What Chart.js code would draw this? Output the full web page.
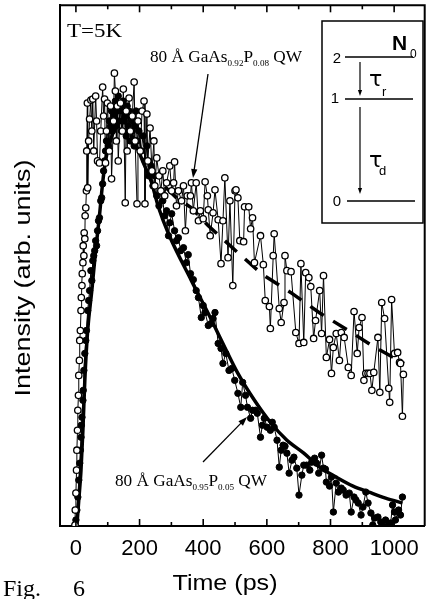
<!DOCTYPE html>
<html><head><meta charset="utf-8">
<script src="https://cdn.jsdelivr.net/npm/chart.js@4/dist/chart.umd.min.js"></script>
<style>html,body{margin:0;padding:0;background:#fff;}canvas{display:block;}</style>
</head><body>
<canvas id="c" width="430" height="599"></canvas>
<script>
// ---- data (Time in ps, intensity in arb. units) ----
const openTimes = [-3,-2,0,2,3,5,6,8,9,11,12,14,16,17,19,20,22,23,25,26,28,29,31,33,34,36,37,40,43,47,50,53,56,62,65,68,74,78,84,87,90,93,96,99,105,109,112,118,121,124,127,130,133,140,146,149,155,158,161,167,171,177,183,186,192,195,202,208,214,217,223,226,233,239,245,248,254,261,267,273,279,285,295,301,307,310,316,322,332,338,344,350,360,363,369,378,385,391,400,406,413,416,422,431,437,447,456,462,468,478,484,493,500,503,509,515,527,530,543,549,555,561,580,589,595,608,611,620,623,639,645,654,657,663,676,691,701,707,716,722,732,738,747,753,766,772,778,787,797,803,809,818,828,834,843,856,865,874,884,890,899,905,911,918,924,930,936,949,955,961,970,983,986,992,1001,1011,1017,1020,1026,1029];
const openValues = [0.2,3.2,6.6,11.2,15.2,19.2,23.2,26.2,30.2,33.2,37.2,39.2,43.2,45.8,48.2,50.6,52.8,56.2,54.2,58.8,57.6,62.2,63.8,67.2,75.2,84.8,67.8,77.2,81.6,85.4,79.2,85.6,75.2,86.2,81.2,73.2,72.8,79.2,88,82.2,85.6,72.8,79.2,84.8,75.2,84.2,69.6,81.2,90.8,87.2,77.2,84.2,73.2,84.8,79.2,87.6,64.8,83.2,75.2,85.8,79.2,82.2,89,77.2,64.6,81.2,75.2,83.2,85.2,64.6,82.6,73.2,79.8,71.2,77.2,68.2,73.8,70.2,67.2,71.2,66.2,68.8,72.2,67.2,68.8,73,64.2,67.2,65.2,68.2,59.2,66.2,66.2,68.8,63.2,68.8,61.2,63.2,61.6,69,66.2,63.4,58.2,62.8,67.4,61.4,52.6,61.2,69.8,53.8,65.2,48.2,67.2,67.4,65.8,57.2,57,64,64,59.6,61.8,52.8,58.2,52.4,45.2,44,39.6,54.2,58.6,43.6,40.8,44.8,54.2,51.2,51,38.8,36.6,52.6,36.8,50.8,49.8,48,37.6,41.2,47.2,38.6,50.2,33.8,37.4,30.6,35.8,38.6,33.2,38.8,37.8,31.8,30.2,43,34.6,39.8,41.8,29.2,30.6,30.6,30.6,27.2,30.8,37.8,26.8,44.8,41.6,27.6,24.8,45.4,34.6,34.8,32.8,32.6,22,30.4];
const filledTimes = [0,3,6,9,12,14,16,17,19,22,23,25,28,31,33,37,40,43,47,50,53,56,59,62,65,68,71,74,78,81,84,87,90,93,96,99,102,105,109,112,115,118,121,124,127,130,133,136,140,143,146,149,152,155,158,161,164,167,171,174,177,180,183,186,189,192,198,205,211,217,223,229,236,242,248,254,261,267,273,279,285,291,295,301,310,316,322,329,338,347,353,360,369,378,385,394,400,406,416,425,431,437,447,456,462,471,481,490,499,509,518,524,533,539,549,555,564,570,580,586,592,601,611,617,623,632,639,645,651,657,663,670,679,685,694,701,710,716,725,735,741,750,756,763,772,778,784,787,797,803,809,818,825,834,840,849,859,865,874,880,887,896,902,911,918,927,933,939,949,958,964,973,980,989,995,1001,1004,1014,1020,1026];
const filledValues = [1.2,3.2,5.8,9.2,12.6,15.2,17.8,20.2,21.8,25.2,27.2,31.2,34.6,37.2,39.2,43.2,45.2,47.2,51.2,49.2,53.2,54.2,55.2,57.2,56.2,59.2,61.2,61.8,65.2,65.8,68.6,71.2,73.2,75.2,77.2,79.2,76.2,81.2,80.2,83.2,79.2,84.2,82.2,85.2,80.2,83.2,86.2,81.2,84.2,79.2,83.2,85.2,81.2,82.2,78.2,84.2,80.2,83.2,77.2,82.2,79.2,81.2,76.2,80.2,83.2,77.2,79.2,75.2,78.2,73.2,76.2,70.2,72.2,68.2,70.2,66.2,64.2,67.2,65.2,62.2,63.2,58.2,60.8,62.6,59.2,57.2,57.8,55.2,55.8,52.8,54.4,50.6,49.4,47.2,45.8,41.8,44.2,42.8,40.2,40.6,41.6,42.8,36.6,35.6,32.6,34.6,31.2,31.6,29.2,26.6,23.8,28.8,26.2,23.8,21.6,23.2,23.2,22.6,17.8,20.2,21.6,19.8,19.2,20.8,19.8,17.2,11.8,15.2,16.2,16,14.6,10.6,13.2,13.8,11.6,6.2,10.2,12.2,12.2,11.2,12.8,13.6,12.6,10.6,14.2,11.6,11.4,8.8,8,9.8,2.8,8.6,6.8,7.6,7.2,6.2,6.6,2.8,5.8,5.2,4.6,2.2,3.8,6.8,4.6,2.6,0.2,1.6,1.8,0.8,0,1.2,0,0.6,4.2,2.8,1.2,3.2,2.2,5.8];
const fitTimes = [3,9,16,22,28,37,50,62,74,84,93,105,121,136,152,167,183,198,214,236,260,291,363,416,468,509,561,611,663,716,766,818,871,921,973,1026];
const fitValues = [0,5.2,11.2,19.2,29.2,39.2,47.2,55.2,62.2,68.8,73.2,76.5,79.5,81,81,79.5,77.2,75,72.5,69.2,63.8,58.6,49.2,42.6,35.8,30.6,25.2,20.8,17.2,14.6,11.8,9.8,8,6.8,5.6,4.6];
const dashTimes = [280,316,363,416,509,587,680,764,851,935,1031];
const dashValues = [68,65.8,63.8,60.2,54.8,50.4,46.6,42.8,39.4,36,32.6];
const xLabelTicks = [0,200,400,600,800,1000];
const xMinorTicks = [100,300,500,700,900];
const xTitle = 'Time (ps)';
const yTitle = 'Intensity (arb. units)';
const upperLabel = ['80 Å GaAs','0.92','P','0.08',' QW'];
const lowerLabel = ['80 Å GaAs','0.95','P','0.05',' QW'];

const pts = (xs, ys) => xs.map((t, i) => ({x: t, y: ys[i]}));
const SANS = '"Liberation Sans", Arial, Helvetica, sans-serif';
const SERIF = '"Liberation Serif", "Times New Roman", serif';

function stretchText(ctx, text, x, y, font, width, align) {
  ctx.save();
  ctx.font = font;
  const w = ctx.measureText(text).width;
  ctx.translate(x, y);
  ctx.scale(width / w, 1);
  ctx.textAlign = align || 'left';
  ctx.textBaseline = 'alphabetic';
  ctx.fillText(text, 0, 0);
  ctx.restore();
}
function richLabel(ctx, parts, x, y, width) {
  const main = '17px ' + SERIF, sub = '9px ' + SERIF;
  let total = 0;
  parts.forEach((p, i) => { ctx.font = (i === 1 || i === 3) ? sub : main; total += ctx.measureText(p).width; });
  ctx.save();
  ctx.translate(x, y);
  ctx.scale(width / total, 1);
  ctx.textBaseline = 'alphabetic';
  ctx.textAlign = 'left';
  let cx = 0;
  parts.forEach((p, i) => {
    const isSub = (i === 1 || i === 3);
    ctx.font = isSub ? sub : main;
    ctx.fillText(p, cx, isSub ? 4 : 0);
    cx += ctx.measureText(p).width;
  });
  ctx.restore();
}
function arrow(ctx, x1, y1, x2, y2, head, lw) {
  const a = Math.atan2(y2 - y1, x2 - x1);
  ctx.save();
  ctx.lineWidth = lw;
  ctx.beginPath(); ctx.moveTo(x1, y1);
  ctx.lineTo(x2 - Math.cos(a) * head * 0.8, y2 - Math.sin(a) * head * 0.8); ctx.stroke();
  ctx.beginPath();
  ctx.moveTo(x2, y2);
  ctx.lineTo(x2 - head * Math.cos(a) + head * 0.35 * Math.sin(a), y2 - head * Math.sin(a) - head * 0.35 * Math.cos(a));
  ctx.lineTo(x2 - head * Math.cos(a) - head * 0.35 * Math.sin(a), y2 - head * Math.sin(a) + head * 0.35 * Math.cos(a));
  ctx.closePath(); ctx.fill();
  ctx.restore();
}

const decor = {
  id: 'decor',
  afterDraw(chart) {
    const {ctx, chartArea: a, scales: {x}} = chart;
    ctx.save();
    ctx.strokeStyle = '#000'; ctx.fillStyle = '#000';
    // top + right frame
    ctx.lineWidth = 2;
    ctx.beginPath(); ctx.moveTo(a.left - 1, a.top); ctx.lineTo(a.right, a.top); ctx.lineTo(a.right, a.bottom); ctx.stroke();
    // inward ticks
    ctx.lineWidth = 1.6;
    const tick = (v, len) => {
      const px = x.getPixelForValue(v);
      ctx.beginPath(); ctx.moveTo(px, a.bottom); ctx.lineTo(px, a.bottom - len); ctx.stroke();
      ctx.beginPath(); ctx.moveTo(px, a.top); ctx.lineTo(px, a.top + len); ctx.stroke();
    };
    xLabelTicks.forEach(v => tick(v, 7));
    xMinorTicks.forEach(v => tick(v, 4));
    // axis titles
    stretchText(ctx, xTitle, 225, 590, '22px ' + SANS, 105, 'center');
    ctx.save();
    ctx.translate(30, 278); ctx.rotate(-Math.PI / 2);
    stretchText(ctx, yTitle, 0, 0, '22px ' + SANS, 237, 'center');
    ctx.restore();
    // caption
    ctx.font = '24px ' + SERIF; ctx.textAlign = 'left'; ctx.textBaseline = 'alphabetic';
    ctx.fillText('Fig.', 3, 596);
    ctx.fillText('6', 73, 596);
    // temperature
    stretchText(ctx, 'T=5K', 67, 37, '18px ' + SERIF, 55, 'left');
    // curve labels + arrows
    richLabel(ctx, upperLabel, 150, 62, 152);
    richLabel(ctx, lowerLabel, 115, 486, 152);
    arrow(ctx, 208, 74, 193, 178, 9, 1.3);
    arrow(ctx, 203, 462, 247, 417, 9, 1.3);
    // inset: level scheme
    ctx.lineWidth = 1.5;
    ctx.strokeRect(322, 21, 101, 202);
    ctx.beginPath();
    ctx.moveTo(345, 57); ctx.lineTo(413, 57);
    ctx.moveTo(345, 99); ctx.lineTo(413, 99);
    ctx.moveTo(347, 201); ctx.lineTo(415, 201);
    ctx.stroke();
    arrow(ctx, 360, 62, 360, 96, 6, 1.2);
    arrow(ctx, 360, 107, 360, 194, 6, 1.2);
    ctx.textAlign = 'center'; ctx.textBaseline = 'alphabetic';
    ctx.font = '15px ' + SANS;
    ctx.fillText('2', 337, 63);
    ctx.fillText('1', 335, 103);
    ctx.fillText('0', 337, 206);
    ctx.textAlign = 'left';
    ctx.font = 'bold 21px ' + SANS;
    ctx.fillText('N', 392, 50);
    ctx.font = '12px ' + SANS;
    ctx.fillText('0', 410, 58);
    ctx.font = '22px "DejaVu Sans", sans-serif';
    ctx.fillText('τ', 369, 86);
    ctx.fillText('τ', 369, 167);
    ctx.font = '13px ' + SANS;
    ctx.fillText('r', 382, 96);
    ctx.fillText('d', 379, 175);
    ctx.restore();
  }
};

new Chart(document.getElementById('c').getContext('2d'), {
  type: 'line',
  data: {
    datasets: [
      {label: 'GaAs0.92P0.08', data: pts(openTimes, openValues), borderColor: '#000', borderWidth: 1,
       pointRadius: 3.2, pointBorderWidth: 1.3, pointBackgroundColor: '#fff', pointBorderColor: '#000', order: 0},
      {label: 'fit 0.92', data: pts(dashTimes, dashValues), borderColor: '#000', borderWidth: 3.5,
       borderDash: [16, 11], pointRadius: 0, order: 1},
      {label: 'fit 0.95', data: pts(fitTimes, fitValues), borderColor: '#000', borderWidth: 3.5,
       pointRadius: 0, order: 1, cubicInterpolationMode: 'monotone'},
      {label: 'GaAs0.95P0.05', data: pts(filledTimes, filledValues), borderColor: '#000', borderWidth: 1,
       pointRadius: 3.2, pointBorderWidth: 1, pointBackgroundColor: '#000', pointBorderColor: '#000', order: 2}
    ]
  },
  options: {
    responsive: false, animation: false, devicePixelRatio: 1,
    layout: {padding: {top: 4, right: 1, left: 0, bottom: 0}},
    plugins: {legend: {display: false}, tooltip: {enabled: false}},
    scales: {
      x: {
        type: 'linear', min: -50, max: 1096,
        afterBuildTicks: s => { s.ticks = xLabelTicks.map(v => ({value: v})); },
        afterFit: s => { s.height = 73; },
        grid: {display: false, drawTicks: false},
        border: {display: true, color: '#000', width: 2},
        ticks: {color: '#000', font: {family: SANS, size: 22}, padding: 10, maxRotation: 0, autoSkip: false,
                callback: v => String(v)}
      },
      y: {
        min: 0, max: 104.4,
        afterFit: s => { s.width = 60; },
        grid: {display: false, drawTicks: false},
        border: {display: true, color: '#000', width: 2},
        ticks: {display: false}
      }
    }
  },
  plugins: [decor]
});
</script>
</body></html>
